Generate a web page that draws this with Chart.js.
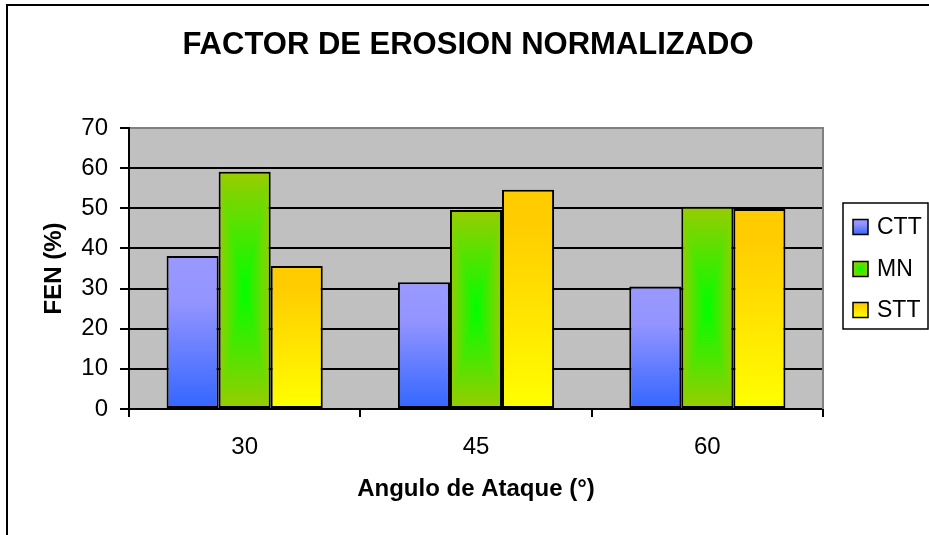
<!DOCTYPE html>
<html>
<head>
<meta charset="utf-8">
<script src="https://cdn.jsdelivr.net/npm/chart.js@4.4.0/dist/chart.umd.min.js"></script>
<style>
html, body { margin: 0; padding: 0; background: #fff; }
canvas { display: block; }
</style>
</head>
<body>
<canvas id="fen-chart" width="929" height="535"></canvas>
<script>
// data
const angles = ['30', '45', '60'];
const seriesNames = ['CTT', 'MN', 'STT'];
const cttValues = [38.1, 31.6, 30.5];
const mnValues = [59.1, 49.6, 50.4];
const sttValues = [35.6, 54.6, 49.8];
const yTicks = [0, 10, 20, 30, 40, 50, 60, 70];

const FONT = "'Liberation Sans', Arial, sans-serif";
const CAT_PCT = 0.675;

const CTT_STOPS = [[0, '#9999FF'], [0.3, '#9494FF'], [1, '#3366FF']];
const STT_STOPS = [[0, '#FFCC00'], [0.15, '#FFCC00'], [1, '#FFFF00']];
const MN_INNER = [0, 255, 0];
const MN_OUTER = [153, 204, 0];

// where a bar sits, taken from the scales (elements are not placed yet when options resolve)
function barRect(ctx) {
	const chart = ctx.chart;
	const x = chart.scales.x;
	const y = chart.scales.y;
	if (!x || !y || !chart.chartArea) return null;
	const catW = (x.right - x.left) / angles.length;
	const groupW = catW * CAT_PCT;
	const barW = groupW / seriesNames.length;
	const left = x.getPixelForValue(ctx.dataIndex) - groupW / 2 + ctx.datasetIndex * barW;
	const top = y.getPixelForValue(ctx.raw);
	const bottom = y.getPixelForValue(0);
	return { left, top, width: barW, height: bottom - top };
}

function linearFill(c2d, top, bottom, stops) {
	const g = c2d.createLinearGradient(0, top, 0, bottom);
	stops.forEach(([o, c]) => g.addColorStop(o, c));
	return g;
}

function verticalFill(stops) {
	return (ctx) => {
		if (ctx.type !== 'data') return stops[0][1];
		const r = barRect(ctx);
		if (!r) return stops[0][1];
		return linearFill(ctx.chart.ctx, r.top, r.top + r.height, stops);
	};
}

// Excel style "from center" shading
function centerCanvas(w, h) {
	const c = document.createElement('canvas');
	c.width = Math.max(1, Math.round(w));
	c.height = Math.max(1, Math.round(h));
	const cx = c.getContext('2d');
	const img = cx.createImageData(c.width, c.height);
	const hw = c.width / 2;
	const hh = c.height / 2;
	for (let j = 0; j < c.height; j++) {
		for (let i = 0; i < c.width; i++) {
			const t = Math.min(1, Math.max(Math.abs(i + 0.5 - hw) / hw, Math.abs(j + 0.5 - hh) / hh));
			const k = (j * c.width + i) * 4;
			for (let n = 0; n < 3; n++) {
				img.data[k + n] = Math.round(MN_INNER[n] + (MN_OUTER[n] - MN_INNER[n]) * t);
			}
			img.data[k + 3] = 255;
		}
	}
	cx.putImageData(img, 0, 0);
	return c;
}

function centerFill(ctx) {
	const fallback = 'rgb(' + MN_OUTER.join(',') + ')';
	if (ctx.type !== 'data') return fallback;
	const r = barRect(ctx);
	if (!r || r.height <= 0) return fallback;
	const p = ctx.chart.ctx.createPattern(centerCanvas(r.width, r.height), 'no-repeat');
	p.setTransform(new DOMMatrix().translate(r.left, r.top));
	return p;
}

function drawLegend(chart, box) {
	const ctx = chart.ctx;
	const ca = chart.chartArea;
	const bx = box.left + 20;
	const bw = 85;
	const bh = 126;
	const by = Math.round((ca.top + ca.bottom) / 2 - 65.5);

	ctx.save();
	ctx.fillStyle = '#fff';
	ctx.fillRect(bx, by, bw, bh);
	ctx.strokeStyle = '#000';
	ctx.lineWidth = 1.5;
	ctx.strokeRect(bx, by, bw, bh);

	const rows = [24, 66, 107];
	ctx.font = '23px ' + FONT;
	ctx.textBaseline = 'middle';
	ctx.textAlign = 'left';
	chart.data.datasets.forEach((ds, i) => {
		const sx = bx + 10;
		const sy = by + rows[i] - 7.5;
		if (i === 0) {
			ctx.fillStyle = linearFill(ctx, sy, sy + 15, CTT_STOPS);
			ctx.fillRect(sx, sy, 15, 15);
		} else if (i === 1) {
			ctx.drawImage(centerCanvas(15, 15), sx, sy);
		} else {
			ctx.fillStyle = linearFill(ctx, sy, sy + 15, STT_STOPS);
			ctx.fillRect(sx, sy, 15, 15);
		}
		ctx.lineWidth = 1.5;
		ctx.strokeStyle = '#000';
		ctx.strokeRect(sx, sy, 15, 15);
		ctx.fillStyle = '#000';
		ctx.fillText(ds.label, bx + 34, by + rows[i] + 1);
	});
	ctx.restore();
}

// right hand box that reserves room for the legend
const sideLegend = {
	id: 'sideLegend',
	beforeInit(chart) {
		const box = {
			position: 'right',
			weight: 1000,
			fullSize: false,
			options: {},
			width: 0,
			height: 0,
			isHorizontal() { return false; },
			update(maxWidth, maxHeight) {
				this.width = 106;
				this.height = maxHeight;
			},
			draw() { drawLegend(chart, this); },
		};
		Chart.layouts.addBox(chart, box);
	},
};

const plotFrame = {
	id: 'plotFrame',
	beforeDraw(chart) {
		const { ctx, chartArea: ca } = chart;
		ctx.save();
		ctx.fillStyle = '#fff';
		ctx.fillRect(0, 0, chart.width, chart.height);
		ctx.fillStyle = '#C0C0C0';
		ctx.fillRect(ca.left, ca.top, ca.right - ca.left, ca.bottom - ca.top);
		ctx.strokeStyle = '#000';
		ctx.lineWidth = 2;
		ctx.strokeRect(7, 5, chart.width + 20, chart.height + 20);
		ctx.restore();
	},
	beforeDatasetsDraw(chart) {
		const { ctx, chartArea: ca } = chart;
		ctx.save();
		ctx.strokeStyle = '#808080';
		ctx.lineWidth = 2;
		ctx.beginPath();
		ctx.moveTo(ca.right, ca.top - 1);
		ctx.lineTo(ca.right, ca.bottom);
		ctx.stroke();
		ctx.restore();
	},
};

const barStyle = {
	borderColor: '#000',
	borderWidth: 2,
	borderSkipped: false,
	categoryPercentage: CAT_PCT,
	barPercentage: 1,
};

new Chart(document.getElementById('fen-chart'), {
	type: 'bar',
	data: {
		labels: angles,
		datasets: [
			{ label: seriesNames[0], data: cttValues, backgroundColor: verticalFill(CTT_STOPS), ...barStyle },
			{ label: seriesNames[1], data: mnValues, backgroundColor: centerFill, ...barStyle },
			{ label: seriesNames[2], data: sttValues, backgroundColor: verticalFill(STT_STOPS), ...barStyle },
		],
	},
	options: {
		responsive: false,
		animation: false,
		events: [],
		layout: { padding: { left: 7, right: 0, top: 0, bottom: 0 } },
		plugins: {
			legend: { display: false },
			tooltip: { enabled: false },
			title: {
				display: true,
				text: 'FACTOR DE EROSION NORMALIZADO',
				color: '#000',
				font: { family: FONT, size: 31, weight: 'bold' },
				padding: { top: 27, bottom: 63.8 },
			},
		},
		scales: {
			x: {
				ticks: { color: '#000', font: { family: FONT, size: 24 }, padding: 16 },
				grid: { drawOnChartArea: false, offset: true, tickLength: 8, color: '#000', lineWidth: 2 },
				border: { color: '#000', width: 2 },
				title: {
					display: true,
					text: 'Angulo de Ataque (°)',
					color: '#000',
					font: { family: FONT, size: 24, weight: 'bold' },
					padding: { top: 0, bottom: 31 },
				},
				afterFit(scale) { scale.height = 126; },
			},
			y: {
				min: 0,
				max: 70,
				afterBuildTicks(scale) { scale.ticks = yTicks.map((v) => ({ value: v })); },
				ticks: { color: '#000', font: { family: FONT, size: 24 }, padding: 12 },
				grid: {
					color: (c) => (c.tick && c.tick.value === 70 ? '#808080' : '#000'),
					tickColor: '#000',
					lineWidth: 2,
					tickLength: 9,
				},
				border: { color: '#000', width: 2 },
				title: {
					display: true,
					text: 'FEN (%)',
					color: '#000',
					font: { family: FONT, size: 24, weight: 'bold' },
					padding: { top: 33, bottom: 0 },
				},
				afterFit(scale) { scale.width = 122; },
			},
		},
	},
	plugins: [sideLegend, plotFrame],
});
</script>
</body>
</html>
